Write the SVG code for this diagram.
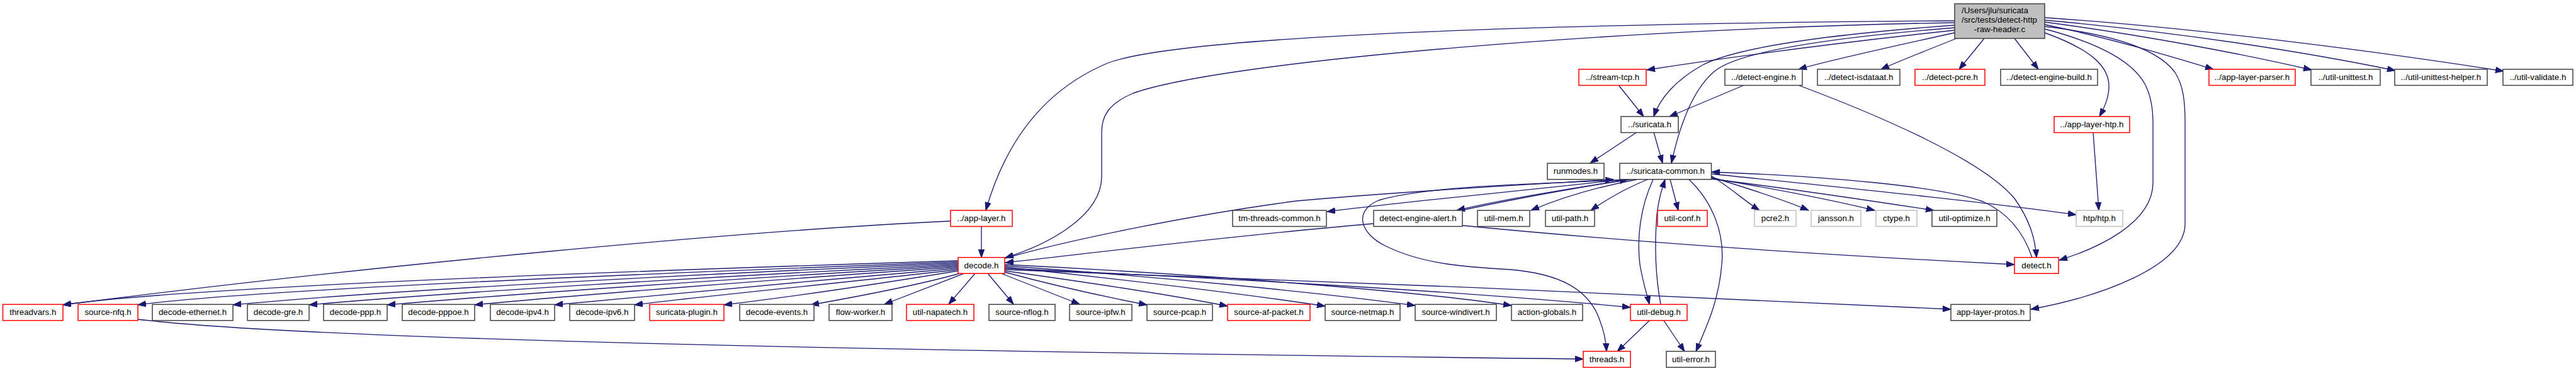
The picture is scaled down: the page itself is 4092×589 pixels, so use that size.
<svg xmlns="http://www.w3.org/2000/svg" width="4092" height="589" viewBox="0 0 4092 589">
<style>
.n rect{fill:#fff;stroke:#404040;stroke-width:1.5}
.n.r rect{stroke:#ff0000}
.n.g rect{stroke:#bfbfbf}
.n.root rect{fill:#bfbfbf;stroke:#404040}
text{font-family:"Liberation Sans",Arial,Helvetica,sans-serif;font-size:13.33px;fill:#000;text-anchor:middle}
#edges path{fill:none;stroke:#191970;stroke-width:1.33;marker-end:url(#a)}
</style>
<defs>
<marker id="a" markerUnits="userSpaceOnUse" markerWidth="14" markerHeight="10" refX="13" refY="5" orient="auto">
<path d="M0,0.3 L13,5 L0,9.7 z" fill="#191970" stroke="#191970" stroke-width="1"/>
</marker>
</defs>
<rect width="4092" height="589" fill="#fff"/>
<g id="edges">
<path d="M3105,33 C2500,37 1880,55 1760,100 C1640,150 1590,250 1566,334"/>
<path d="M3105,36 C2600,44 1950,95 1800,148 C1760,165 1750,185 1750,210 L1750,280 C1750,345 1660,390 1597,409"/>
<path d="M3105,48 C2900,70 2720,95 2616,111"/>
<path d="M3105,40 C2900,55 2760,75 2705,103 C2660,128 2636,158 2627,185"/>
<path d="M3105,44 C2880,62 2760,85 2725,112 C2690,140 2668,200 2655,259"/>
<path d="M3105,52 C3000,75 2900,97 2857,110"/>
<path d="M3108,61 C3060,80 3010,100 2988,110"/>
<path d="M3152,61 L3112,110"/>
<path d="M3200,61 L3238,110"/>
<path d="M3248,52 C3320,78 3352,105 3350,140 C3349,158 3342,172 3335,185"/>
<path d="M3248,46 C3340,70 3390,100 3408,135 C3418,155 3420,175 3420,195 L3420,290 C3420,355 3330,395 3271,413"/>
<path d="M3248,42 C3360,55 3430,80 3455,115 C3468,135 3471,160 3471,195 L3471,355 C3471,425 3330,472 3226,491"/>
<path d="M3248,39 C3350,60 3450,90 3516,110"/>
<path d="M3248,35 C3400,55 3560,85 3672,111"/>
<path d="M3248,32 C3450,50 3650,80 3805,112"/>
<path d="M3248,28 C3500,45 3800,85 3977,113"/>
<path d="M2571,135 L2611,185"/>
<path d="M2771,135 L2652,185"/>
<path d="M2856,135 C2990,185 3150,255 3200,315 C3225,350 3233,380 3235,409"/>
<path d="M3228,409 C3215,370 3190,338 3150,320 C3080,295 2900,280 2719,273"/>
<path d="M2600,210 L2526,259"/>
<path d="M2627,210 L2641,259"/>
<path d="M3325,210 L3334,334"/>
<path d="M2576,285 C2450,300 2250,318 2108,336"/>
<path d="M1597,410 C1700,380 1900,340 2060,319 C2250,302 2450,292 2563,285"/>
<path d="M2590,285 C2500,298 2380,318 2314,334"/>
<path d="M2322,334 C2395,318 2500,299 2586,285"/>
<path d="M2572,286 C2400,293 2260,297 2190,318 C2150,335 2160,370 2200,390 C2260,420 2330,424 2400,428 C2480,435 2520,460 2538,500 C2548,525 2551,540 2552,558"/>
<path d="M2600,285 C2520,300 2470,318 2432,334"/>
<path d="M2617,285 C2580,300 2550,318 2527,334"/>
<path d="M2653,285 L2666,334"/>
<path d="M2626,285 C2605,330 2600,380 2605,420 C2610,450 2617,470 2620,483"/>
<path d="M2638,483 C2630,440 2628,390 2632,340 C2635,315 2640,300 2645,285"/>
<path d="M2683,285 C2720,320 2740,370 2735,420 C2730,480 2710,520 2694,558"/>
<path d="M2718,279 C2745,295 2770,318 2795,334"/>
<path d="M2718,281 C2780,300 2840,320 2873,334"/>
<path d="M2718,283 C2820,300 2920,320 2978,334"/>
<path d="M2718,284 C2850,300 2980,320 3072,334"/>
<path d="M2718,276 C2900,295 3150,320 3298,341"/>
<path d="M2620,509 L2569,558"/>
<path d="M2643,509 L2676,558"/>
<path d="M1559,360 L1559,409"/>
<path d="M1510,351 C1200,365 600,420 100,484"/>
<path d="M2182,355 C1950,375 1750,400 1597,417"/>
<path d="M2323,358 C2600,385 2900,405 3200,420"/>
<path d="M219,507 C450,535 1200,555 2515,570"/>
<path d="M1596,428 C2000,442 2700,470 3099,491"/>
<path d="M1596,426 C1900,440 2300,460 2590,488"/>
<path d="M1522,414 C1000,430 300,455 100,484"/>
<path d="M1522,416 C1000,435 400,460 219,484"/>
<path d="M1522,418 C1100,435 600,462 370,484"/>
<path d="M1522,420 C1150,438 700,465 491,484"/>
<path d="M1522,422 C1200,440 800,468 615,484"/>
<path d="M1522,424 C1250,442 900,470 754,484"/>
<path d="M1522,426 C1300,445 1000,472 881,484"/>
<path d="M1522,428 C1350,448 1100,472 1008,484"/>
<path d="M1522,430 C1400,450 1250,472 1150,484"/>
<path d="M1525,434 C1450,455 1350,473 1288,484"/>
<path d="M1532,434 L1405,483"/>
<path d="M1549,434 L1507,483"/>
<path d="M1569,434 L1610,483"/>
<path d="M1590,434 L1715,483"/>
<path d="M1596,432 C1680,455 1760,472 1822,484"/>
<path d="M1596,430 C1740,450 1870,470 1950,486"/>
<path d="M1596,424 C1800,445 2000,470 2105,486"/>
<path d="M1596,422 C1850,440 2100,465 2248,485"/>
<path d="M1596,420 C1900,435 2250,462 2401,485"/>
</g>
<g id="root" class="n root"><rect x="3105" y="6" width="143" height="55"/><text x="3116" y="20.5" style="text-anchor:start">/Users/jlu/suricata</text><text x="3116" y="35.5" style="text-anchor:start">/src/tests/detect-http</text><text x="3176.5" y="50.5">-raw-header.c</text></g>
<g id="stream_tcp" class="n r"><rect x="2508" y="110" width="107" height="25.5"/><text x="2561.5" y="127">../stream-tcp.h</text></g>
<g id="detect_engine" class="n"><rect x="2740" y="110" width="123" height="25.5"/><text x="2801.5" y="127">../detect-engine.h</text></g>
<g id="detect_isdataat" class="n"><rect x="2887" y="110" width="131" height="25.5"/><text x="2952.5" y="127">../detect-isdataat.h</text></g>
<g id="detect_pcre" class="n r"><rect x="3042" y="110" width="111" height="25.5"/><text x="3097.5" y="127">../detect-pcre.h</text></g>
<g id="detect_engine_build" class="n"><rect x="3178" y="110" width="154" height="25.5"/><text x="3255" y="127">../detect-engine-build.h</text></g>
<g id="app_layer_parser" class="n r"><rect x="3509" y="110" width="137" height="25.5"/><text x="3577.5" y="127">../app-layer-parser.h</text></g>
<g id="util_unittest" class="n"><rect x="3671" y="110" width="110" height="25.5"/><text x="3726" y="127">../util-unittest.h</text></g>
<g id="util_unittest_helper" class="n"><rect x="3804" y="110" width="147" height="25.5"/><text x="3877.5" y="127">../util-unittest-helper.h</text></g>
<g id="util_validate" class="n"><rect x="3976" y="110" width="111" height="25.5"/><text x="4031.5" y="127">../util-validate.h</text></g>
<g id="suricata" class="n"><rect x="2575" y="185" width="91" height="25.5"/><text x="2620.5" y="202">../suricata.h</text></g>
<g id="app_layer_htp" class="n r"><rect x="3263" y="185" width="120" height="25.5"/><text x="3323" y="202">../app-layer-htp.h</text></g>
<g id="runmodes" class="n"><rect x="2458" y="259.3" width="90" height="25.5"/><text x="2503" y="276.3">runmodes.h</text></g>
<g id="suricata_common" class="n"><rect x="2573" y="259.3" width="145.5" height="25.5"/><text x="2645.75" y="276.3">../suricata-common.h</text></g>
<g id="app_layer" class="n r"><rect x="1510" y="334" width="98" height="25.5"/><text x="1559" y="351">../app-layer.h</text></g>
<g id="tm_threads_common" class="n"><rect x="1958" y="334" width="149" height="25.5"/><text x="2032.5" y="351">tm-threads-common.h</text></g>
<g id="detect_engine_alert" class="n"><rect x="2182" y="334" width="141" height="25.5"/><text x="2252.5" y="351">detect-engine-alert.h</text></g>
<g id="util_mem" class="n"><rect x="2347" y="334" width="83" height="25.5"/><text x="2388.5" y="351">util-mem.h</text></g>
<g id="util_path" class="n"><rect x="2455" y="334" width="78" height="25.5"/><text x="2494" y="351">util-path.h</text></g>
<g id="util_conf" class="n r"><rect x="2633" y="334" width="79" height="25.5"/><text x="2672.5" y="351">util-conf.h</text></g>
<g id="pcre2" class="n g"><rect x="2787" y="334" width="66" height="25.5"/><text x="2820" y="351">pcre2.h</text></g>
<g id="jansson" class="n g"><rect x="2877" y="334" width="79" height="25.5"/><text x="2916.5" y="351">jansson.h</text></g>
<g id="ctype" class="n g"><rect x="2980" y="334" width="65" height="25.5"/><text x="3012.5" y="351">ctype.h</text></g>
<g id="util_optimize" class="n"><rect x="3069" y="334" width="103" height="25.5"/><text x="3120.5" y="351">util-optimize.h</text></g>
<g id="htp_htp" class="n g"><rect x="3298" y="334" width="74" height="25.5"/><text x="3335" y="351">htp/htp.h</text></g>
<g id="decode" class="n r"><rect x="1522" y="408.7" width="74" height="25.5"/><text x="1559" y="425.7">decode.h</text></g>
<g id="detect" class="n r"><rect x="3200" y="408.7" width="70" height="25.5"/><text x="3235" y="425.7">detect.h</text></g>
<g id="threadvars" class="n r"><rect x="4.5" y="483.3" width="95.5" height="25.5"/><text x="52.25" y="500.3">threadvars.h</text></g>
<g id="source_nfq" class="n r"><rect x="124" y="483.3" width="95" height="25.5"/><text x="171.5" y="500.3">source-nfq.h</text></g>
<g id="decode_ethernet" class="n"><rect x="242" y="483.3" width="128" height="25.5"/><text x="306" y="500.3">decode-ethernet.h</text></g>
<g id="decode_gre" class="n"><rect x="393" y="483.3" width="98" height="25.5"/><text x="442" y="500.3">decode-gre.h</text></g>
<g id="decode_ppp" class="n"><rect x="514" y="483.3" width="101" height="25.5"/><text x="564.5" y="500.3">decode-ppp.h</text></g>
<g id="decode_pppoe" class="n"><rect x="639" y="483.3" width="115" height="25.5"/><text x="696.5" y="500.3">decode-pppoe.h</text></g>
<g id="decode_ipv4" class="n"><rect x="779" y="483.3" width="102" height="25.5"/><text x="830" y="500.3">decode-ipv4.h</text></g>
<g id="decode_ipv6" class="n"><rect x="905" y="483.3" width="103" height="25.5"/><text x="956.5" y="500.3">decode-ipv6.h</text></g>
<g id="suricata_plugin" class="n r"><rect x="1032" y="483.3" width="118" height="25.5"/><text x="1091" y="500.3">suricata-plugin.h</text></g>
<g id="decode_events" class="n"><rect x="1175" y="483.3" width="118" height="25.5"/><text x="1234" y="500.3">decode-events.h</text></g>
<g id="flow_worker" class="n"><rect x="1317" y="483.3" width="100" height="25.5"/><text x="1367" y="500.3">flow-worker.h</text></g>
<g id="util_napatech" class="n r"><rect x="1440" y="483.3" width="107" height="25.5"/><text x="1493.5" y="500.3">util-napatech.h</text></g>
<g id="source_nflog" class="n"><rect x="1571" y="483.3" width="105" height="25.5"/><text x="1623.5" y="500.3">source-nflog.h</text></g>
<g id="source_ipfw" class="n"><rect x="1699" y="483.3" width="99" height="25.5"/><text x="1748.5" y="500.3">source-ipfw.h</text></g>
<g id="source_pcap" class="n"><rect x="1822" y="483.3" width="104" height="25.5"/><text x="1874" y="500.3">source-pcap.h</text></g>
<g id="source_af_packet" class="n r"><rect x="1950" y="483.3" width="131" height="25.5"/><text x="2015.5" y="500.3">source-af-packet.h</text></g>
<g id="source_netmap" class="n"><rect x="2105" y="483.3" width="119" height="25.5"/><text x="2164.5" y="500.3">source-netmap.h</text></g>
<g id="source_windivert" class="n"><rect x="2248" y="483.3" width="129" height="25.5"/><text x="2312.5" y="500.3">source-windivert.h</text></g>
<g id="action_globals" class="n"><rect x="2401" y="483.3" width="113" height="25.5"/><text x="2457.5" y="500.3">action-globals.h</text></g>
<g id="util_debug" class="n r"><rect x="2590" y="483.3" width="90" height="25.5"/><text x="2635" y="500.3">util-debug.h</text></g>
<g id="app_layer_protos" class="n"><rect x="3099" y="483.3" width="126" height="25.5"/><text x="3162" y="500.3">app-layer-protos.h</text></g>
<g id="threads" class="n r"><rect x="2515" y="557.7" width="75" height="25.5"/><text x="2552.5" y="574.7">threads.h</text></g>
<g id="util_error" class="n"><rect x="2647" y="557.7" width="78" height="25.5"/><text x="2686" y="574.7">util-error.h</text></g>
</svg>
